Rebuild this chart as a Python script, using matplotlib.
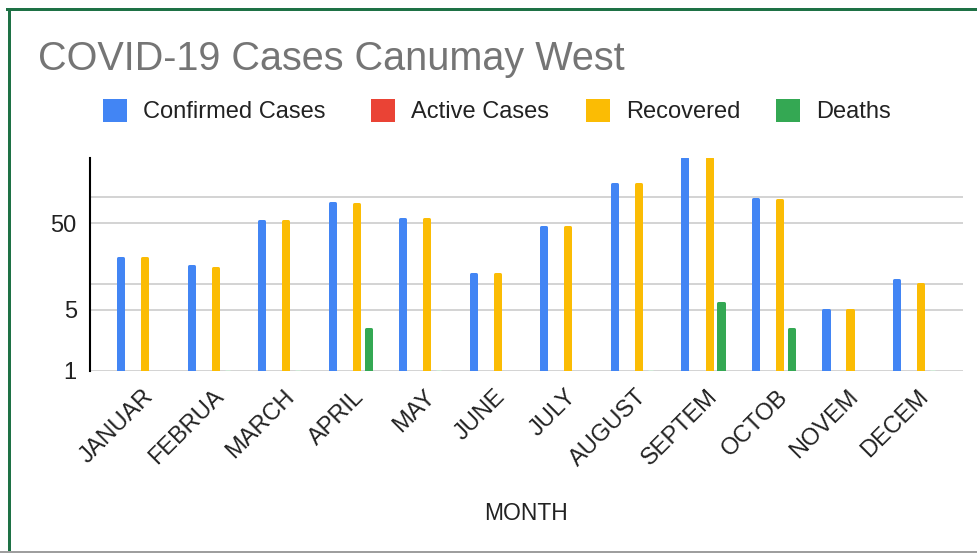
import numpy as np
import matplotlib
matplotlib.use("Agg")
import matplotlib.pyplot as plt
from matplotlib.transforms import blended_transform_factory, ScaledTranslation
from matplotlib.lines import Line2D

plt.rcParams['font.family'] = ['Liberation Sans', 'DejaVu Sans']

months = ['JANUAR', 'FEBRUA', 'MARCH', 'APRIL', 'MAY', 'JUNE',
          'JULY', 'AUGUST', 'SEPTEM', 'OCTOB', 'NOVEM', 'DECEM']
confirmed = [20, 16, 53, 86, 56, 13, 45, 140, 280, 95, 5, 11]
active = [0, 0, 0, 0, 0, 0, 0, 0, 0, 0, 0, 0]
recovered = [20, 15, 53, 82, 56, 13, 45, 140, 280, 91, 5, 10]
deaths = [0, 1, 1, 3, 1, 0, 0, 1, 6, 3, 0, 1]
series_names = ['Confirmed Cases', 'Active Cases', 'Recovered', 'Deaths']
series_colors = ['#4285F4', '#EA4335', '#FBBC04', '#34A853']
faint_colors = ['#d4e3fc', '#f9d3d0', '#fdebb4', '#cfe9d6']
ytick_vals = [1, 5, 10, 50, 100]
ytick_labels = ['1', '5', '', '50', '']

W, H = 978, 553
fig = plt.figure(figsize=(W / 100, H / 100), dpi=100)
fig.patch.set_facecolor('white')

# axes placement in pixels
L, R, B, T = 90, 963, 370.7, 158
ax = fig.add_axes([L / W, 1 - B / H, (R - L) / W, (B - T) / H])

cat_px = 70.5
x = np.arange(len(months))
step = 12 / cat_px
bar_w_px = 8.0
edge_px = 3.0
face_w = (bar_w_px - edge_px) / cat_px
edge_pt = edge_px * 72 / 100

ax.set_yscale('log')
containers = []
for k, (vals, col, faint, name) in enumerate(zip(
        [confirmed, active, recovered, deaths], series_colors, faint_colors, series_names)):
    v = np.array(vals, dtype=float)
    v = np.where(v >= 1, v, np.nan)
    edges = [faint if vv == 1 else col for vv in vals]
    bc = ax.bar(x + (k - 1.5) * step, v - 1, bottom=1, width=face_w,
                color=col, edgecolor=edges, linewidth=edge_pt, label=name,
                zorder=3)
    for p in bc.patches:
        p.set_joinstyle('round')
    containers.append(bc)

ax.set_xlim(-49 / cat_px, (R - 139) / cat_px)
ax.set_ylim(1, 280)
ax.set_yticks(ytick_vals)
ax.set_yticklabels(ytick_labels)
ax.yaxis.set_minor_locator(matplotlib.ticker.NullLocator())
ax.tick_params(axis='y', length=0, pad=9.5, labelsize=17, labelcolor='#222222')
ax.set_xticks([])
ax.grid(axis='y', color='#cccccc', linewidth=1.2, zorder=0)
ax.set_axisbelow(True)
for s in ['top', 'right', 'bottom']:
    ax.spines[s].set_visible(False)
ax.spines['left'].set_color('black')
ax.spines['left'].set_linewidth(1.5)

# month labels
base = blended_transform_factory(ax.transData, ax.transAxes)
off = ScaledTranslation(15 / 100, -27 / 100, fig.dpi_scale_trans)
for i, m in enumerate(months):
    ax.text(i, 0, m, transform=base + off, rotation=45, rotation_mode='anchor',
            ha='right', va='baseline', fontsize=17, color='#222222', clip_on=False)

fig.text(526 / W, 1 - 520 / H, 'MONTH', ha='center', va='baseline',
         fontsize=16.5, color='#222222')

fig.text(38 / W, 1 - 70 / H, 'COVID-19 Cases Canumay West', ha='left',
         va='baseline', fontsize=28.5, color='#757575')

# legend items
sq_x = [104, 372, 587, 777]
for bc, sx in zip(containers, sq_x):
    lg = fig.legend(handles=[bc], loc='center left',
                    bbox_to_anchor=(sx / W, 1 - 111.5 / H), frameon=False,
                    fontsize=17, handlelength=0.9, handleheight=0.9,
                    handletextpad=0.75, borderpad=0, borderaxespad=0)
    for t in lg.get_texts():
        t.set_color('#222222')

# frame lines
fig.add_artist(Line2D([8.5 / W, 8.5 / W], [0, 1 - 8.5 / H], color='#1e7145',
                      linewidth=3 * 0.72, transform=fig.transFigure))
fig.add_artist(Line2D([7 / W, 1], [1 - 8.5 / H, 1 - 8.5 / H], color='#1e7145',
                      linewidth=3 * 0.72, transform=fig.transFigure))
fig.add_artist(Line2D([0, 1], [1 - 551.5 / H, 1 - 551.5 / H], color='#9e9e9e',
                      linewidth=3 * 0.72, transform=fig.transFigure))

fig.savefig('out.png', dpi=100)
